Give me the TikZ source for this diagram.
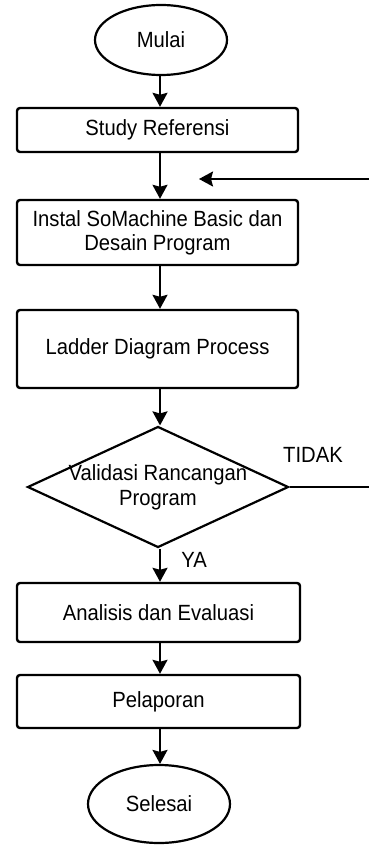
\documentclass[tikz,border=0pt]{standalone}
\usepackage{fontspec}
\setmainfont{Liberation Sans}[FakeStretch=0.92]
\usetikzlibrary{shapes.geometric,arrows.meta}
\begin{document}
\begin{tikzpicture}[x=1pt,y=-1pt,
  every node/.style={font=\fontsize{22}{24}\selectfont},
  line/.style={line width=2pt},
  arr/.style={line, -{Stealth[length=14pt,width=15pt,inset=2pt]}},
  box/.style={draw, line width=2.4pt, rounded corners=3pt, minimum width=281pt, inner sep=0pt, align=center},
  term/.style={draw, ellipse, line width=2.2pt, inner sep=0pt},
  dia/.style={draw, diamond, line width=2.2pt, inner sep=0pt, minimum width=261pt, minimum height=121pt}]
\useasboundingbox (0,0) rectangle (369,845);
\node[term, minimum width=132pt, minimum height=70pt] (mulai) at (161,40) {Mulai};
\node[box, minimum height=44pt] (study) at (157.5,130) {Study Referensi};
\node[box, minimum height=65pt] (instal) at (157.5,232.5) {Instal SoMachine Basic dan\\Desain Program};
\node[box, minimum height=78pt] (ladder) at (157.5,349) {Ladder Diagram Process};
\node[dia, label={[align=center, font=\fontsize{22}{25}\selectfont]center:Validasi Rancangan\\Program}] (val) at (158,487) {};
\node[box, minimum width=283pt, minimum height=59pt] (anal) at (158.5,612.5) {Analisis dan Evaluasi};
\node[box, minimum width=283pt, minimum height=53pt] (lapor) at (158.5,701.5) {Pelaporan};
\node[term, minimum width=142pt, minimum height=78pt] (selesai) at (159,804) {Selesai};
\node (tidak) at (313,455) {TIDAK};
\node (ya) at (194,560) {YA};
\coordinate (fbin) at (369,179);
\coordinate (fbtip) at (199,179);
\coordinate (tout) at (369,487);
\draw[arr] (mulai.south -| 160,0) -- (study.north -| 160,0);
\draw[arr] (study.south -| 160,0) -- (instal.north -| 160,0);
\draw[arr] (instal.south -| 160,0) -- (ladder.north -| 160,0);
\draw[arr] (ladder.south -| 160,0) -- (val.north -| 160,0);
\draw[arr] (val.south -| 160,0) -- (anal.north -| 160,0);
\draw[arr] (anal.south -| 160,0) -- (lapor.north -| 160,0);
\draw[arr] (lapor.south -| 160,0) -- (selesai.north -| 160,0);
\draw[line] (val.east) -- (tout);
\draw[arr] (fbin) -- (fbtip);
\end{tikzpicture}
\end{document}
